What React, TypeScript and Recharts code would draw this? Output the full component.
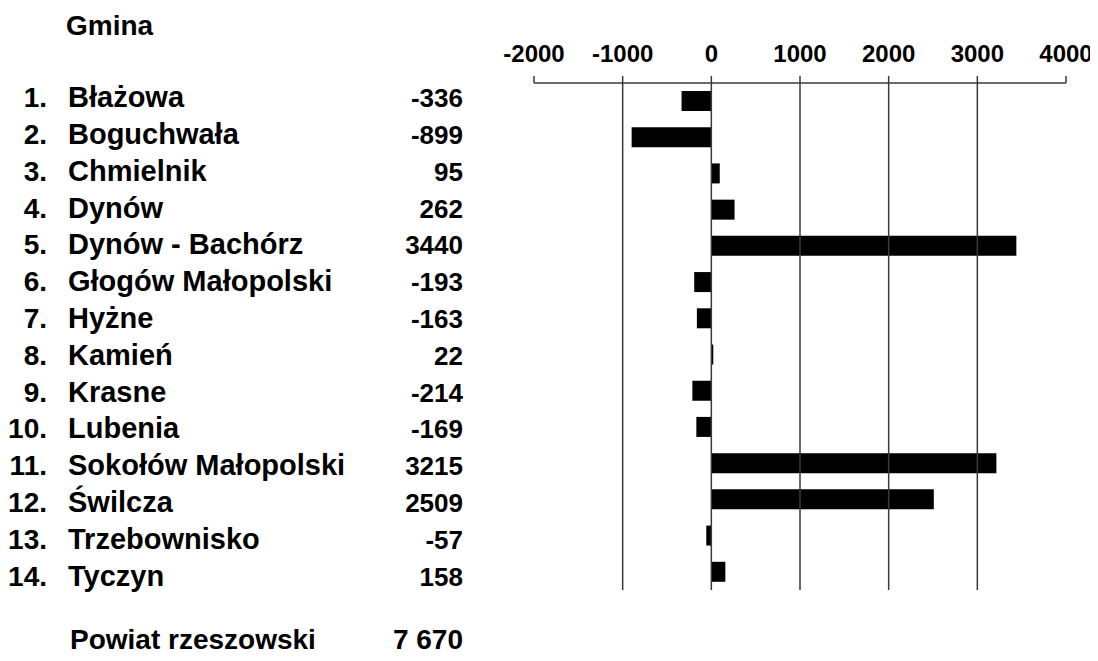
import * as React from 'react';
import { BarChart, Bar, XAxis, YAxis, ReferenceLine } from 'recharts';

const gminy = [
    'Błażowa', 'Boguchwała', 'Chmielnik', 'Dynów', 'Dynów - Bachórz', 'Głogów Małopolski', 'Hyżne',
    'Kamień', 'Krasne', 'Lubenia', 'Sokołów Małopolski', 'Świlcza', 'Trzebownisko', 'Tyczyn'
];
const saldo = [-336, -899, 95, 262, 3440, -193, -163, 22, -214, -169, 3215, 2509, -57, 158];
const xTicks = [-2000, -1000, 0, 1000, 2000, 3000, 4000];
const gridValues = [-1000, 0, 1000, 2000, 3000];
const naglowek = 'Gmina';
const sumaLabel = 'Powiat rzeszowski';
const sumaValue = '7 670';

const FONT = '"Liberation Sans", Arial, sans-serif';
const LINE = '#3a3a3a';

const data = gminy.map((g, i) => ({ gmina: g, saldo: saldo[i] }));

const GminaTick = (props: any) => {
    const { y, payload } = props;
    const i = gminy.indexOf(payload.value);
    const dy = 6 + i * 0.6;
    return (
        <g fontFamily={FONT} fontWeight="bold" fill="#000">
            <text x={39} y={y + dy} textAnchor="end" fontSize={28}>{`${i + 1}.`}</text>
            <text x={60} y={y + dy} textAnchor="start" fontSize={29}>{payload.value}</text>
            <text x={455} y={y + dy} textAnchor="end" fontSize={26}>{saldo[i]}</text>
        </g>
    );
};

export default function App() {
    return (
        <div style={{ position: 'relative', width: 1090, height: 645 }}>
            <BarChart
                width={1090}
                height={645}
                data={data}
                layout="vertical"
                margin={{ top: 0, right: 32, bottom: 63, left: 0 }}
            >
                <XAxis
                    type="number"
                    orientation="top"
                    domain={[-2000, 4000]}
                    ticks={xTicks}
                    interval={0}
                    height={75}
                    tickSize={7}
                    tickMargin={14}
                    stroke={LINE}
                    strokeWidth={1.5}
                    tick={{ fill: '#000', fontSize: 24, fontWeight: 'bold', fontFamily: FONT }}
                />
                <YAxis
                    type="category"
                    dataKey="gmina"
                    width={526}
                    axisLine={false}
                    tickLine={false}
                    interval={0}
                    tick={<GminaTick />}
                />
                {gridValues.map(v => (
                    <ReferenceLine key={v} x={v} stroke={LINE} strokeWidth={1.5} />
                ))}
                <Bar dataKey="saldo" fill="#000" barSize={20} isAnimationActive={false} />
            </BarChart>
            <svg
                width={1090}
                height={645}
                style={{ position: 'absolute', left: 0, top: 0, pointerEvents: 'none', overflow: 'visible' }}
            >
                <g fontFamily={FONT} fontWeight="bold" fill="#000" fontSize={28}>
                    <text x={58} y={27}>{naglowek}</text>
                    <text x={62} y={641}>{sumaLabel}</text>
                    <text x={455} y={641} textAnchor="end">{sumaValue}</text>
                </g>
            </svg>
        </div>
    );
}
